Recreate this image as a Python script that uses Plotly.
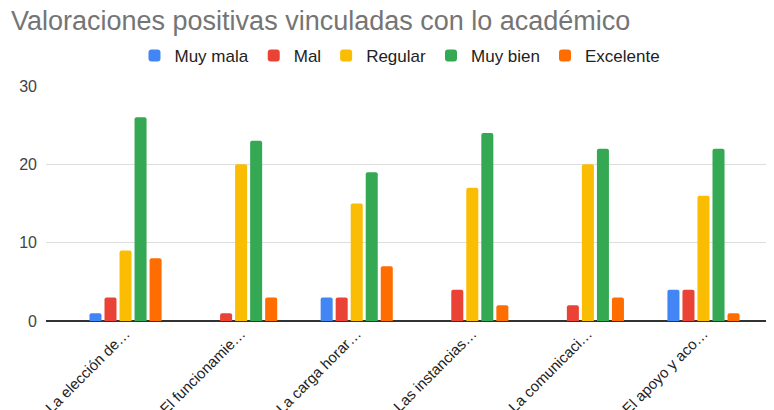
import plotly.graph_objects as go

temas = ["La elección de…", "El funcionamie…", "La carga horar…",
         "Las instancias…", "La comunicaci…", "El apoyo y aco…"]

muy_mala = [1, 0, 3, 0, 0, 4]
mal = [3, 1, 3, 4, 2, 4]
regular = [9, 20, 15, 17, 20, 16]
muy_bien = [26, 23, 19, 24, 22, 22]
excelente = [8, 3, 7, 2, 3, 1]

series = [
    ("Muy mala", muy_mala, "#4285F4"),
    ("Mal", mal, "#EA4335"),
    ("Regular", regular, "#FBBC04"),
    ("Muy bien", muy_bien, "#34A853"),
    ("Excelente", excelente, "#FF6D01"),
]

fig = go.Figure()
for nombre, valores, color in series:
    fig.add_trace(go.Bar(x=temas, y=valores, name=nombre,
                         marker=dict(color=color, cornerradius=2, line_width=0)))

# page has an 8px body margin, so the figure is offset by 8px right/down
fig.update_layout(
    width=774, height=410,
    paper_bgcolor="white", plot_bgcolor="white",
    font=dict(family="Arial, Liberation Sans, sans-serif", color="#222222"),
    title=dict(text="Valoraciones positivas vinculadas con lo académico",
               x=3 / 774, xanchor="left", xref="container",
               y=1 - 12.5 / 410, yanchor="middle", yref="container",
               font=dict(size=27, color="#757575"), automargin=False),
    legend=dict(orientation="h", x=(400 - 46) / 728, xanchor="center", xref="paper",
                y=(321 - 56) / 235, yanchor="middle", yref="paper",
                font=dict(size=17, color="#222222"), itemwidth=30,
                traceorder="normal"),
    barmode="group", bargap=0.35, bargroupgap=0.2,
    margin=dict(l=38, r=8, t=78, b=97, autoexpand=False),
    xaxis=dict(range=[-0.688, 5.61], tickangle=-45, showgrid=False,
               ticks="", tickfont=dict(size=15, color="#222222"),
               automargin=False),
    yaxis=dict(range=[0, 30], tickvals=[0, 10, 20, 30], showgrid=True,
               gridcolor="#dddddd", gridwidth=1, zeroline=True,
               zerolinecolor="#333333", zerolinewidth=1.5,
               tickfont=dict(size=16, color="#444444"), ticklabelstandoff=8,
               automargin=False),
)

fig.write_html("out.html")
